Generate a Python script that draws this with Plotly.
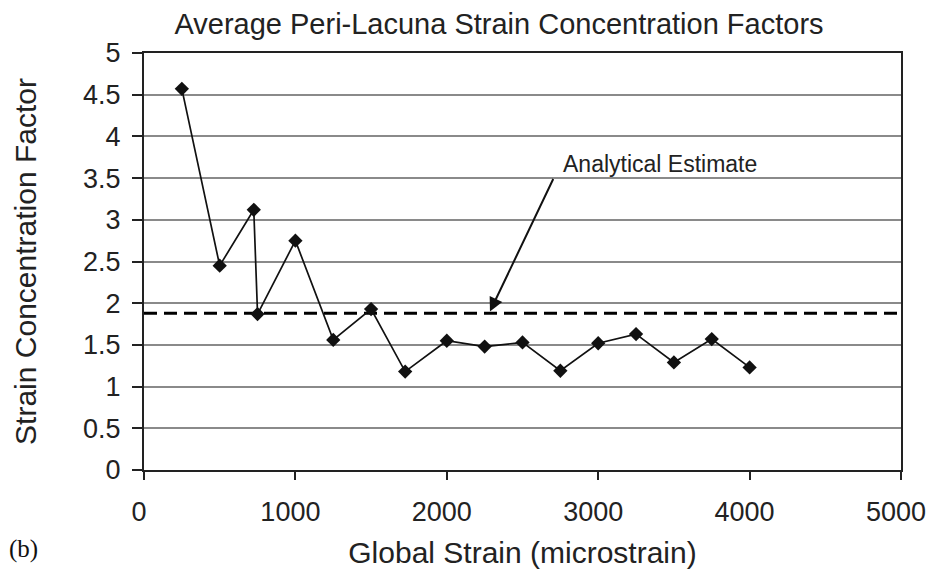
import plotly.graph_objects as go

# Data
global_strain = [250, 500, 725, 750, 1000, 1250, 1500, 1725, 2000, 2250, 2500,
                 2750, 3000, 3250, 3500, 3750, 4000]
scf = [4.57, 2.45, 3.12, 1.87, 2.75, 1.56, 1.93, 1.18, 1.55, 1.48, 1.53,
       1.19, 1.52, 1.63, 1.29, 1.57, 1.23]
analytical_x = [0, 5000]
analytical_estimate = 1.88
arrow_x = 2285
arrow_y = 1.9

x_ticks = [0, 1000, 2000, 3000, 4000, 5000]
y_ticks = [0, 0.5, 1, 1.5, 2, 2.5, 3, 3.5, 4, 4.5, 5]
y_tick_text = ["0", "0.5", "1", "1.5", "2", "2.5", "3", "3.5", "4", "4.5", "5"]

FONT = "Liberation Sans, Arial, Helvetica, sans-serif"
INK = "#222222"

# page body has an 8px margin; work in reference pixels and shift
OFF = 8
W, H = 935 - OFF, 571 - OFF
PL, PR, PT, PB = 144, 901, 53, 470          # plot area in reference pixels
L, R, T, B = PL - OFF, W - (PR - OFF), PT - OFF, H - (PB - OFF)
pw, ph = PR - PL, PB - PT


def paper_x(px):
    return (px - PL) / pw


def paper_y(py):
    return (PB - py) / ph


fig = go.Figure()
fig.add_trace(go.Scatter(
    x=analytical_x, y=[analytical_estimate] * len(analytical_x),
    mode="lines", line=dict(color="black", width=3, dash="13px,7px"),
    showlegend=False, hoverinfo="skip"))
fig.add_trace(go.Scatter(
    x=global_strain, y=scf, mode="lines+markers",
    line=dict(color="#111111", width=1.7),
    marker=dict(symbol="diamond", size=11, color="#111111"),
    showlegend=False))

fig.add_annotation(x=arrow_x, y=arrow_y, xref="x", yref="y", text="",
                   showarrow=True, ax=64, ay=-134, arrowhead=2, arrowsize=1.4,
                   arrowwidth=2, arrowcolor="#111111")
fig.add_annotation(x=paper_x(561), y=paper_y(164), xref="paper", yref="paper",
                   text="Analytical Estimate", showarrow=False,
                   xanchor="left", yanchor="middle",
                   font=dict(family=FONT, size=23, color=INK))
fig.add_annotation(x=paper_x(7), y=paper_y(549), xref="paper", yref="paper",
                   text="(b)", showarrow=False, xanchor="left", yanchor="middle",
                   font=dict(family="Liberation Serif, Times New Roman, serif",
                             size=25, color="#111111"))

fig.update_layout(
    width=W, height=H,
    margin=dict(l=L, r=R, t=T, b=B, autoexpand=False),
    plot_bgcolor="white", paper_bgcolor="white",
    font=dict(family=FONT, color=INK),
    title=dict(text="Average Peri-Lacuna Strain Concentration Factors",
               x=(499 - OFF) / W, xanchor="center", xref="container",
               y=1 - (24 - OFF) / H, yanchor="middle", yref="container",
               font=dict(family=FONT, size=29, color=INK)),
    xaxis=dict(range=[0, 5000], tickvals=x_ticks, ticktext=[str(v) for v in x_ticks],
               showgrid=False, zeroline=False,
               showline=True, linecolor=INK, linewidth=2, mirror=True,
               ticks="outside", ticklen=8, tickwidth=1.5, tickcolor=INK,
               ticklabelstandoff=9, ticklabelshift=-5,
               tickfont=dict(family=FONT, size=27, color=INK),
               title=dict(text="Global Strain (microstrain)", standoff=16,
                          font=dict(family=FONT, size=30, color=INK))),
    yaxis=dict(range=[0, 5], tickvals=y_ticks, ticktext=y_tick_text,
               showgrid=True, gridcolor="#8a8a8a", gridwidth=1.5, zeroline=False,
               showline=True, linecolor=INK, linewidth=2, mirror=True,
               ticks="outside", ticklen=10, tickwidth=1.5, tickcolor=INK,
               ticklabelstandoff=6,
               tickfont=dict(family=FONT, size=27, color=INK),
               title=dict(text="Strain Concentration Factor", standoff=38,
                          font=dict(family=FONT, size=30, color=INK))),
)

fig.write_html("out.html")
